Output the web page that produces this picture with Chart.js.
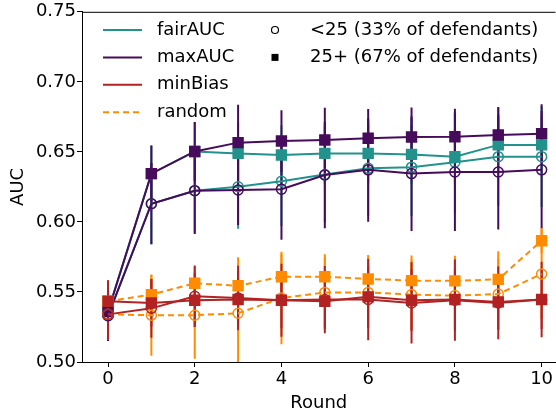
<!DOCTYPE html>
<html>
<head>
<meta charset="utf-8">
<script src="https://cdn.jsdelivr.net/npm/chart.js@4"></script>
<style>
  html, body { margin: 0; padding: 0; background: #fff; overflow: hidden; }
  #wrap { width: 556px; height: 417px; overflow: hidden; }
</style>
</head>
<body>
<div id="wrap"><canvas id="chart" width="564" height="417"></canvas></div>
<script>
// Data
const rounds = [0, 1, 2, 3, 4, 5, 6, 7, 8, 9, 10];

const fairAUCOver25 = [0.536, 0.6345, 0.6503, 0.6489, 0.6478, 0.6489, 0.6489, 0.6482, 0.6466, 0.655, 0.655];
const fairAUCUnder25 = [0.533, 0.613, 0.6223, 0.6251, 0.629, 0.6338, 0.6384, 0.6391, 0.6426, 0.6466, 0.6466];
const maxAUCOver25 = [0.536, 0.6345, 0.6503, 0.6566, 0.6578, 0.6585, 0.6597, 0.6606, 0.6608, 0.662, 0.663];
const maxAUCUnder25 = [0.533, 0.613, 0.6223, 0.6228, 0.6233, 0.6335, 0.6372, 0.6345, 0.6356, 0.6356, 0.6372];
const minBiasOver25 = [0.5434, 0.5422, 0.5441, 0.5446, 0.5441, 0.5434, 0.5465, 0.5441, 0.5446, 0.5429, 0.5446];
const minBiasUnder25 = [0.534, 0.5383, 0.5469, 0.5457, 0.5441, 0.5446, 0.5446, 0.5422, 0.5441, 0.5422, 0.5446];
const randomOver25 = [0.5434, 0.5481, 0.5562, 0.5544, 0.5609, 0.5609, 0.5593, 0.5581, 0.5579, 0.559, 0.5866];
const randomUnder25 = [0.534, 0.5334, 0.5334, 0.5348, 0.5457, 0.5497, 0.5497, 0.5481, 0.5474, 0.5485, 0.5628];

// error bar half-lengths
const fairAUCOver25Err = [0.015, 0.02, 0.021, 0.022, 0.021, 0.022, 0.021, 0.021, 0.02, 0.02, 0.02];
const fairAUCUnder25Err = [0.018, 0.029, 0.03, 0.03, 0.032, 0.034, 0.034, 0.035, 0.036, 0.035, 0.036];
const maxAUCOver25Err = [0.015, 0.02, 0.021, 0.027, 0.022, 0.023, 0.021, 0.021, 0.02, 0.02, 0.021];
const maxAUCUnder25Err = [0.018, 0.029, 0.031, 0.025, 0.036, 0.038, 0.037, 0.041, 0.042, 0.041, 0.042];
const minBiasOver25Err = [0.015, 0.017, 0.019, 0.02, 0.02, 0.02, 0.022, 0.022, 0.022, 0.02, 0.021];
const minBiasUnder25Err = [0.018, 0.021, 0.022, 0.023, 0.026, 0.024, 0.029, 0.029, 0.029, 0.026, 0.027];
const randomOver25Err = [0.015, 0.014, 0.012, 0.014, 0.016, 0.016, 0.017, 0.018, 0.018, 0.02, 0.009];
const randomUnder25Err = [0.018, 0.029, 0.031, 0.04, 0.033, 0.025, 0.025, 0.025, 0.025, 0.025, 0.032];

const yTicks = [0.5, 0.55, 0.6, 0.65, 0.7, 0.75];
const xTicks = [0, 2, 4, 6, 8, 10];

const TEAL = "#22928c";
const PURPLE = "#470b5c";
const RED = "#b22222";
const ORANGE = "#ff8c00";
const FONT = '"DejaVu Sans", sans-serif';

function series(values, errors, color, square, dashed) {
  return {
    data: rounds.map((r, i) => ({ x: r, y: values[i] })),
    errors,
    borderColor: color,
    backgroundColor: square ? color : "rgba(0,0,0,0)",
    borderWidth: 2,
    borderDash: dashed ? [6, 4] : [],
    pointStyle: square ? "rect" : "circle",
    pointRadius: square ? 7 : 5,
    pointBorderWidth: 1.5,
    pointBackgroundColor: square ? color : "rgba(0,0,0,0)",
    pointBorderColor: color,
    tension: 0,
  };
}

// first dataset is drawn on top
const datasets = [
  series(minBiasOver25, minBiasOver25Err, RED, true, false),
  series(minBiasUnder25, minBiasUnder25Err, RED, false, false),
  series(randomOver25, randomOver25Err, ORANGE, true, true),
  series(randomUnder25, randomUnder25Err, ORANGE, false, true),
  series(maxAUCOver25, maxAUCOver25Err, PURPLE, true, false),
  series(maxAUCUnder25, maxAUCUnder25Err, PURPLE, false, false),
  series(fairAUCOver25, fairAUCOver25Err, TEAL, true, false),
  series(fairAUCUnder25, fairAUCUnder25Err, TEAL, false, false),
];

const errorBars = {
  id: "errorBars",
  beforeDatasetsDraw(chart) {
    const { ctx, chartArea, scales } = chart;
    ctx.save();
    ctx.beginPath();
    ctx.rect(chartArea.left, chartArea.top, chartArea.width, chartArea.height);
    ctx.clip();
    ctx.lineWidth = 2;
    for (let d = chart.data.datasets.length - 1; d >= 0; d--) {
      const ds = chart.data.datasets[d];
      ctx.strokeStyle = ds.borderColor;
      ds.errors.forEach((e, i) => {
        const p = ds.data[i];
        const px = scales.x.getPixelForValue(p.x);
        ctx.beginPath();
        ctx.moveTo(px, scales.y.getPixelForValue(p.y - e));
        ctx.lineTo(px, scales.y.getPixelForValue(p.y + e));
        ctx.stroke();
      });
    }
    ctx.restore();
  },
};

const legendItems = [
  { label: "fairAUC", color: TEAL, dash: [] },
  { label: "maxAUC", color: PURPLE, dash: [] },
  { label: "minBias", color: RED, dash: [] },
  { label: "random", color: ORANGE, dash: [6, 4] },
];

const customLegend = {
  id: "customLegend",
  afterDraw(chart) {
    const { ctx, chartArea } = chart;
    ctx.save();
    // top spine
    ctx.strokeStyle = "#000";
    ctx.lineWidth = 1;
    ctx.beginPath();
    ctx.moveTo(chartArea.left, chartArea.top + 0.5);
    ctx.lineTo(chartArea.right, chartArea.top + 0.5);
    ctx.stroke();

    ctx.font = "18px " + FONT;
    ctx.textBaseline = "middle";
    ctx.fillStyle = "#000";
    legendItems.forEach((item, i) => {
      const y = 30 + i * 27.4;
      ctx.strokeStyle = item.color;
      ctx.lineWidth = 2;
      ctx.setLineDash(item.dash);
      ctx.beginPath();
      ctx.moveTo(103, y);
      ctx.lineTo(142, y);
      ctx.stroke();
      ctx.setLineDash([]);
      ctx.fillText(item.label, 157, y);
    });
    // group markers
    ctx.strokeStyle = "#000";
    ctx.lineWidth = 1.2;
    ctx.beginPath();
    ctx.arc(275, 30, 3.5, 0, Math.PI * 2);
    ctx.stroke();
    ctx.fillRect(271.5, 53.9, 7, 7);
    ctx.fillText("<25 (33% of defendants)", 310, 30);
    ctx.fillText("25+ (67% of defendants)", 310, 57.4);
    ctx.restore();
  },
};

new Chart(document.getElementById("chart"), {
  type: "line",
  data: { datasets },
  options: {
    responsive: false,
    animation: false,
    layout: { padding: { top: 5, right: 0, left: 0, bottom: 0 } },
    plugins: { legend: { display: false }, tooltip: { enabled: false } },
    scales: {
      x: {
        type: "linear",
        min: -0.6,
        max: 10.32,
        afterBuildTicks: (axis) => { axis.ticks = xTicks.map((v) => ({ value: v })); },
        afterFit: (axis) => { axis.height = 55; },
        ticks: { color: "#000", font: { family: FONT, size: 18 }, padding: 2, maxRotation: 0 },
        grid: { display: true, drawOnChartArea: false, drawTicks: true, tickLength: 5, color: "#000" },
        border: { display: true, color: "#000", width: 1 },
        title: { display: true, text: "Round", color: "#000", font: { family: FONT, size: 18 }, padding: { top: 0, bottom: 3 } },
      },
      y: {
        min: 0.5,
        max: 0.75,
        afterBuildTicks: (axis) => { axis.ticks = yTicks.map((v) => ({ value: v })); },
        afterFit: (axis) => { axis.width = 82; },
        ticks: { color: "#000", font: { family: FONT, size: 18 }, padding: 1, callback: (v) => v.toFixed(2) },
        grid: { display: true, drawOnChartArea: false, drawTicks: true, tickLength: 5, color: "#000" },
        border: { display: true, color: "#000", width: 1 },
        title: { display: true, text: "AUC", color: "#000", font: { family: FONT, size: 18 }, padding: { top: 8, bottom: 0 } },
      },
    },
  },
  plugins: [errorBars, customLegend],
});
</script>
</body>
</html>
